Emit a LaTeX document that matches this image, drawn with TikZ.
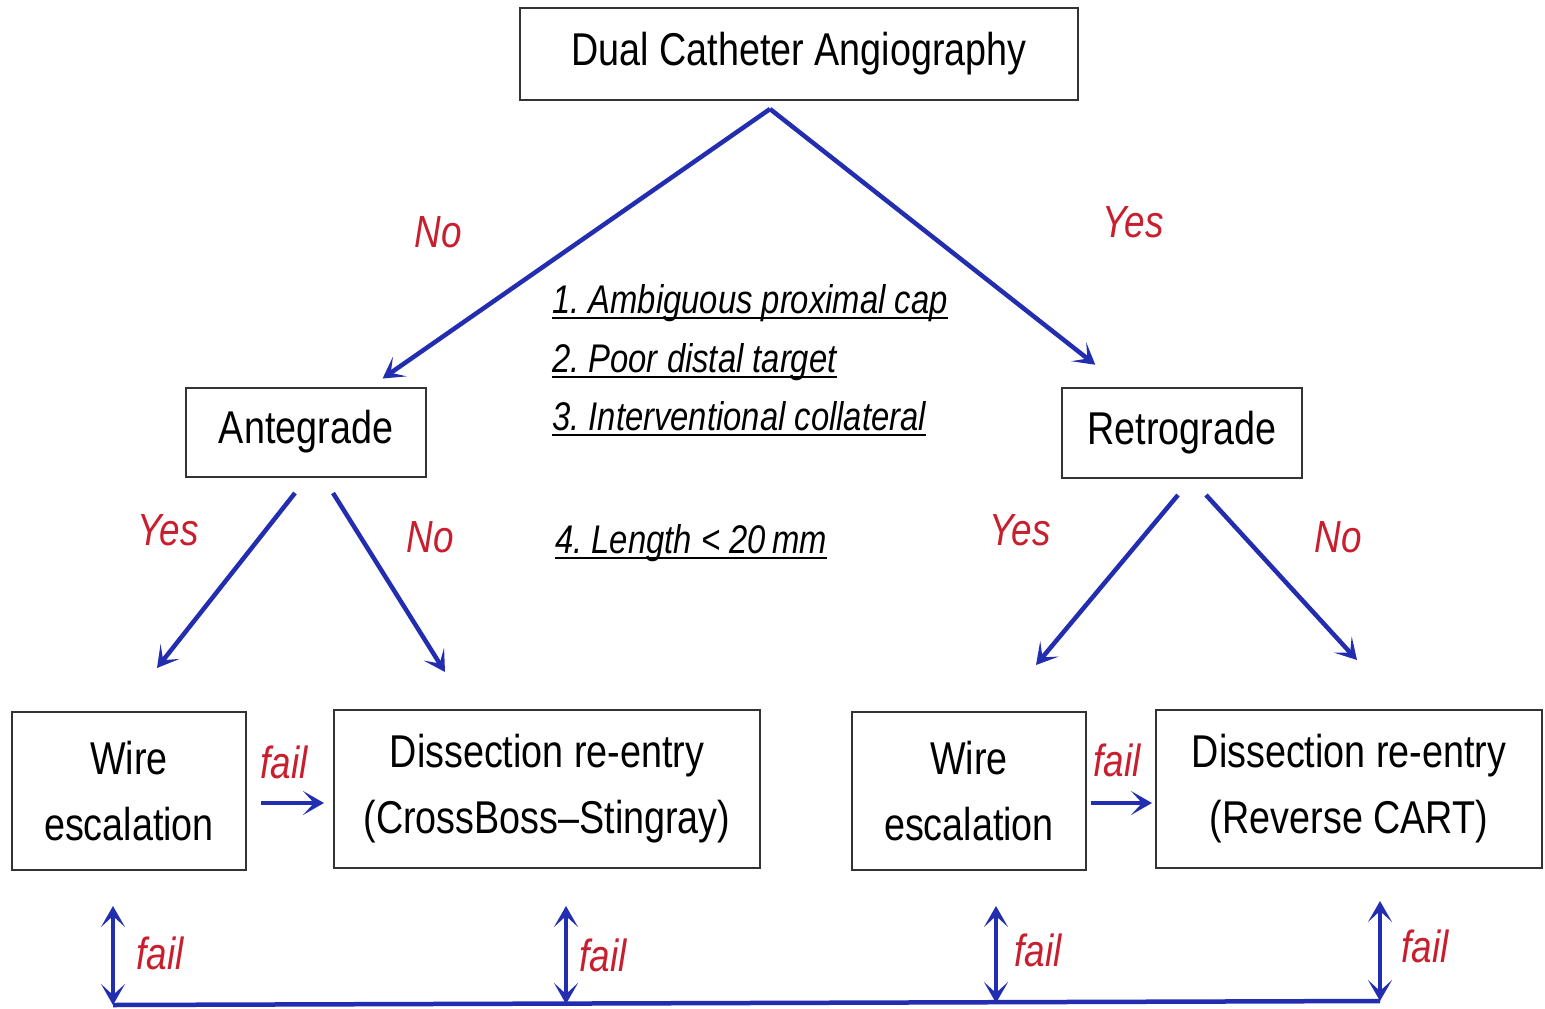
\documentclass[tikz,border=0pt]{standalone}
\usepackage{fontspec}
\setmainfont[FakeStretch=0.82]{Liberation Sans}
\usetikzlibrary{arrows.meta}
\definecolor{myblue}{RGB}{35,45,175}
\definecolor{myred}{RGB}{200,30,45}
\newcommand{\lineul}[1]{\setbox0\hbox{\frenchspacing#1}\rlap{\rule[-6pt]{\wd0}{2pt}}\box0}
\tikzset{mybox/.style={draw=black!80,line width=2pt,align=center,inner sep=0pt,font=\fontsize{46}{66}\selectfont}}
\tikzset{mytip/.tip={Stealth[length=21pt,width=24pt,inset=11pt]}}
\tikzset{myvec/.style={myblue,line width=4.5pt,-mytip}}
\tikzset{myboth/.style={myblue,line width=4pt,mytip-mytip}}
\tikzset{myline/.style={myblue,line width=4.5pt}}
\tikzset{mylabel/.style={myred,font=\fontsize{45}{50}\selectfont\itshape}}
\tikzset{mylist/.style={anchor=base west,inner sep=0pt,font=\fontsize{40}{48}\selectfont\itshape}}

\begin{document}
\begin{tikzpicture}[x=1pt,y=-1pt]
	\useasboundingbox (0,0) rectangle (1545,1009);

	\node[mybox,minimum width=558,minimum height=92] (dca) at (799,54) {Dual Catheter Angiography};
	\node[mybox,minimum width=240,minimum height=89] (ante) at (306,432) {Antegrade};
	\node[mybox,minimum width=240,minimum height=90] (retro) at (1182,433) {Retrograde};

	\node[mybox,minimum width=234,minimum height=158] (wl) at (129,791) {Wire\\escalation};
	\node[mybox,minimum width=426,minimum height=158] (dl) at (547,789) {Dissection re-entry\\(CrossBoss--Stingray)};
	\node[mybox,minimum width=234,minimum height=158] (wr) at (969,791) {Wire\\escalation};
	\node[mybox,minimum width=386,minimum height=158] (dr) at (1349,789) {Dissection re-entry\\(Reverse CART)};

	% criteria
	\node[mylist] (c1) at (552,313) {\lineul{1. Ambiguous proximal cap}};
	\node[mylist] (c2) at (552,372) {\lineul{2. Poor distal target}};
	\node[mylist] (c3) at (552,430) {\lineul{3. Interventional collateral}};
	\node[mylist] (c4) at (555,553) {\lineul{4. Length < 20\,mm}};

	% first split
	\coordinate (fork) at ([xshift=-29pt,yshift=-8pt]dca.south);
	\draw[myvec,shorten >=14pt] (fork) -- (ante);
	\draw[myvec,shorten >=36pt] (fork) -- (retro);
	\node[mylabel] (no1) at (438,232) {No};
	\node[mylabel] (yes1) at (1133,222) {Yes};

	% second split
	\coordinate (al) at (295,493);
	\coordinate (ar) at (333,493);
	\coordinate (rl) at (1178,495);
	\coordinate (rr) at (1206,495);
	\coordinate (alend) at (157,668);
	\coordinate (arend) at (445,672);
	\coordinate (rlend) at (1036,665);
	\coordinate (rrend) at (1357,660);
	\draw[myvec] (al) -- (alend);
	\draw[myvec] (ar) -- (arend);
	\draw[myvec] (rl) -- (rlend);
	\draw[myvec] (rr) -- (rrend);
	\node[mylabel] (yes2) at (168,530) {Yes};
	\node[mylabel] (no2) at (430,537) {No};
	\node[mylabel] (yes3) at (1020,530) {Yes};
	\node[mylabel] (no3) at (1338,537) {No};

	\draw[myvec] ([shift={(14,12)}]wl.east) -- ([shift={(-9,14)}]dl.west);
	\draw[myvec] ([shift={(4,12)}]wr.east) -- ([shift={(-3,14)}]dr.west);
	\node[mylabel] (f1) at (284,762) {fail};
	\node[mylabel] (f2) at (1117,760) {fail};

	% bottom loop
	\coordinate (b1) at (113,1005);
	\coordinate (b2) at (566,1004);
	\coordinate (b3) at (996,1003);
	\coordinate (b4) at (1380,1001);
	\draw[myline] (b1) -- (b4);
	\draw[myboth] ([shift={(-16,35)}]wl.south) -- (b1);
	\draw[myboth] ([shift={(19,37)}]dl.south) -- (b2);
	\draw[myboth] ([shift={(27,35)}]wr.south) -- (b3);
	\draw[myboth] ([shift={(31,32)}]dr.south) -- (b4);
	\node[mylabel] (f3) at (160,953) {fail};
	\node[mylabel] (f4) at (603,955) {fail};
	\node[mylabel] (f5) at (1038,950) {fail};
	\node[mylabel] (f6) at (1425,946) {fail};
\end{tikzpicture}
\end{document}
